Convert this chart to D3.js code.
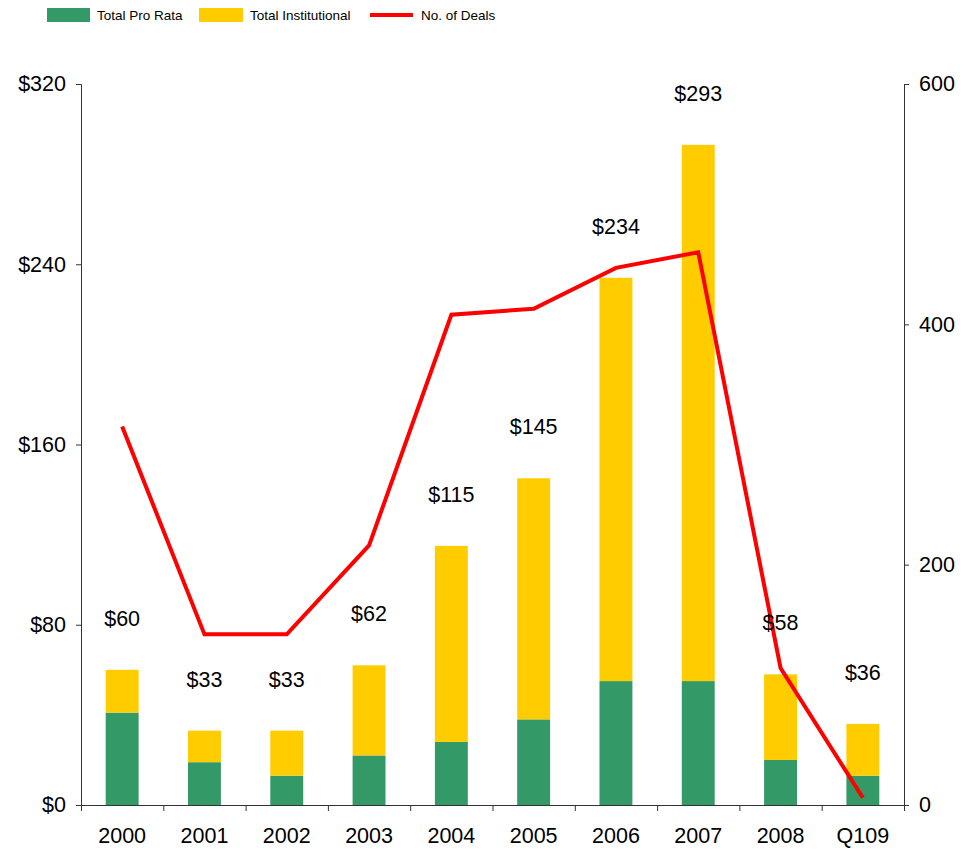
<!DOCTYPE html>
<html>
<head>
<meta charset="utf-8">
<script src="https://cdn.jsdelivr.net/npm/d3@7"></script>
<style>
  body { margin: 0; background: #fff; }
  svg text { font-family: "Liberation Sans", Arial, sans-serif; fill: #000; }
</style>
</head>
<body>
<div id="chart"></div>
<script>
// data
const years = ["2000", "2001", "2002", "2003", "2004", "2005", "2006", "2007", "2008", "Q109"];
const proRata = [41, 19, 13, 22, 28, 38, 55, 55, 20, 13];
const totals = [60, 33, 33, 62, 115, 145, 234, 293, 58, 36];
const deals = [315, 142, 142, 216, 408, 413, 447, 460, 114, 6];
const leftTicks = [0, 80, 160, 240, 320];
const rightTicks = [0, 200, 400, 600];

const institutional = totals.map((t, i) => t - proRata[i]);

const width = 976, height = 850;
const margin = {top: 84, right: 72, bottom: 45, left: 81};
const bigFont = "21.5px";

const svg = d3.select("#chart").append("svg")
  .attr("width", width)
  .attr("height", height);

const x = d3.scaleBand()
  .domain(years)
  .range([margin.left, width - margin.right])
  .paddingInner(0.6)
  .paddingOuter(0.3);

const xEdge = d3.scaleLinear()
  .domain([0, years.length])
  .range([margin.left, width - margin.right]);

const y = d3.scaleLinear().domain([0, 320]).range([height - margin.bottom, margin.top]);
const y2 = d3.scaleLinear().domain([0, 600]).range([height - margin.bottom, margin.top]);

const base = height - margin.bottom;

// bars
const rows = years.map((yr, i) => ({year: yr, pro: proRata[i], inst: institutional[i], total: totals[i]}));

svg.append("g").selectAll("rect")
  .data(rows).join("rect")
  .attr("x", d => x(d.year))
  .attr("width", x.bandwidth())
  .attr("y", d => y(d.pro))
  .attr("height", d => y(0) - y(d.pro))
  .attr("fill", "#339966");

svg.append("g").selectAll("rect")
  .data(rows).join("rect")
  .attr("x", d => x(d.year))
  .attr("width", x.bandwidth())
  .attr("y", d => y(d.total))
  .attr("height", d => y(d.pro) - y(d.total))
  .attr("fill", "#FFCC00");

// axes
const axisColor = "#333";

const gl = svg.append("g")
  .attr("transform", "translate(" + margin.left + ",0)")
  .call(d3.axisLeft(y).tickValues(leftTicks).tickSize(5).tickPadding(10).tickFormat(d => "$" + d));

const gr = svg.append("g")
  .attr("transform", "translate(" + (width - margin.right) + ",0)")
  .call(d3.axisRight(y2).tickValues(rightTicks).tickSize(5).tickPadding(10));

const gb = svg.append("g")
  .attr("transform", "translate(0," + base + ")")
  .call(d3.axisBottom(xEdge).tickValues(d3.range(0, years.length + 1)).tickSize(6).tickFormat(""));

[gl, gr, gb].forEach(g => {
  g.select(".domain").attr("stroke", axisColor);
  g.selectAll(".tick line").attr("stroke", axisColor);
  g.selectAll("text").style("font-size", bigFont).attr("fill", "#000")
    .style("font-family", "'Liberation Sans', Arial, sans-serif");
});

// category labels
svg.append("g").selectAll("text")
  .data(years).join("text")
  .attr("x", d => x(d) + x.bandwidth() / 2)
  .attr("y", base + 38)
  .attr("text-anchor", "middle")
  .style("font-size", bigFont)
  .text(d => d);

// deals line
const line = d3.line()
  .x((d, i) => x(years[i]) + x.bandwidth() / 2)
  .y(d => y2(d));

svg.append("path")
  .datum(deals)
  .attr("fill", "none")
  .attr("stroke", "#FF0000")
  .attr("stroke-width", 4)
  .attr("stroke-linejoin", "miter")
  .attr("d", line);

// total value labels
svg.append("g").selectAll("text")
  .data(rows).join("text")
  .attr("x", d => x(d.year) + x.bandwidth() / 2)
  .attr("y", d => y(d.total) - 44)
  .attr("text-anchor", "middle")
  .style("font-size", bigFont)
  .text(d => "$" + d.total);

// legend
const legend = svg.append("g").attr("class", "legend");
legend.append("rect").attr("x", 47).attr("y", 8).attr("width", 43).attr("height", 14).attr("fill", "#339966");
legend.append("text").attr("x", 97).attr("y", 20).style("font-size", "13.5px").text("Total Pro Rata");
legend.append("rect").attr("x", 199).attr("y", 8).attr("width", 44).attr("height", 14).attr("fill", "#FFCC00");
legend.append("text").attr("x", 250).attr("y", 20).style("font-size", "13.5px").text("Total Institutional");
legend.append("line").attr("x1", 370).attr("x2", 413).attr("y1", 15).attr("y2", 15)
  .attr("stroke", "#FF0000").attr("stroke-width", 4);
legend.append("text").attr("x", 421).attr("y", 20).style("font-size", "13.5px").text("No. of Deals");
</script>
</body>
</html>
